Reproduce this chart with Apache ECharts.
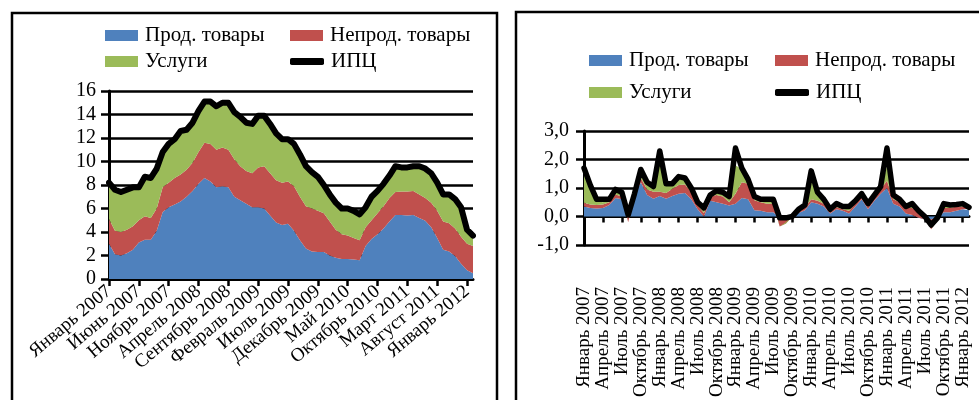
<!DOCTYPE html>
<html><head><meta charset="utf-8">
<script src="https://cdn.jsdelivr.net/npm/echarts@6/dist/echarts.min.js"></script>
<style>html,body{margin:0;padding:0;background:#fff}#c{width:979px;height:400px}</style>
</head><body><div id="c"></div>
<script>
const monthNames = ['Январь','Февраль','Март','Апрель','Май','Июнь','Июль','Август','Сентябрь','Октябрь','Ноябрь','Декабрь'];
const years = [2007,2008,2009,2010,2011,2012];
const categories = [];
years.forEach(y => monthNames.forEach(m => categories.push(m + ' ' + y)));
categories.length = 62; // Январь 2007 – Февраль 2012

const seriesNames = ['Прод. товары','Непрод. товары','Услуги','ИПЦ'];

// Left chart: year-on-year contributions, %
const foodY = [3.0,2.1,2.0,2.2,2.5,3.1,3.35,3.35,4.1,5.7,
  6.1,6.35,6.6,7.0,7.5,8.1,8.6,8.3,7.8,7.9,
  7.8,7.0,6.7,6.4,6.1,6.1,6.0,5.4,4.8,4.6,
  4.7,4.1,3.3,2.6,2.35,2.3,2.3,2.0,1.8,1.7,
  1.7,1.65,1.6,2.8,3.4,3.8,4.3,4.9,5.45,5.45,
  5.4,5.45,5.2,4.95,4.4,3.5,2.5,2.35,1.95,1.3,
  0.75,0.5];
const nonfoodY = [2.1,2.0,2.0,2.0,2.0,1.9,2.0,1.85,1.9,2.1,
  2.1,2.25,2.3,2.3,2.4,2.7,3.0,3.2,3.2,3.3,
  3.2,3.2,2.9,2.8,2.9,3.4,3.6,3.6,3.6,3.6,
  3.6,3.8,3.7,3.6,3.65,3.5,3.3,2.9,2.4,2.1,
  2.0,1.85,1.7,1.6,1.6,1.8,1.9,2.0,1.95,2.0,
  2.05,2.05,2.0,1.95,2.1,2.3,2.4,2.4,2.35,2.3,
  2.25,2.3];
const servicesY = [3.1,3.5,3.4,3.4,3.3,2.8,3.35,3.4,3.4,3.0,
  3.3,3.3,3.7,3.4,3.4,3.5,3.5,3.6,3.7,3.8,
  4.0,4.0,4.2,4.1,4.2,4.4,4.3,4.2,4.0,3.7,
  3.6,3.6,3.6,3.4,3.1,2.9,2.4,2.3,2.3,2.2,
  2.3,2.3,2.2,1.7,2.0,1.9,1.9,1.9,2.2,2.05,
  2.05,2.1,2.4,2.5,2.5,2.4,2.3,2.45,2.5,2.5,
  1.2,0.9];
const cpiY = [8.2,7.6,7.4,7.6,7.8,7.8,8.7,8.6,9.4,10.8,
  11.5,11.9,12.6,12.7,13.3,14.3,15.1,15.1,14.7,15.0,
  15.0,14.2,13.8,13.3,13.2,13.9,13.9,13.2,12.4,11.9,
  11.9,11.5,10.6,9.6,9.1,8.7,8.0,7.2,6.5,6.0,
  6.0,5.8,5.5,6.1,7.0,7.5,8.1,8.8,9.6,9.5,
  9.5,9.6,9.6,9.4,9.0,8.2,7.2,7.2,6.8,6.1,
  4.2,3.7];

// Right chart: month-on-month contributions, %
const foodM = [0.35,0.30,0.28,0.30,0.40,0.65,0.60,0.00,0.70,1.20,
  0.75,0.62,0.72,0.62,0.72,0.80,0.82,0.60,0.25,0.00,
  0.55,0.50,0.45,0.38,0.45,0.65,0.60,0.22,0.20,0.15,
  0.15,-0.05,-0.05,0.05,0.12,0.22,0.50,0.45,0.35,0.10,
  0.25,0.20,0.10,0.35,0.60,0.25,0.55,0.80,1.00,0.45,
  0.35,0.10,0.05,-0.05,-0.10,-0.10,-0.05,0.15,0.15,0.20,
  0.25,0.22];
const nonfoodM = [0.13,0.12,0.12,0.12,0.10,0.12,0.10,-0.20,0.05,0.15,
  0.20,0.25,0.15,0.20,0.25,0.30,0.30,0.25,0.15,0.12,
  0.15,0.25,0.25,0.12,0.35,0.55,0.55,0.35,0.30,0.30,
  0.30,-0.30,-0.20,-0.05,0.08,0.10,0.10,0.10,0.10,0.05,
  0.08,0.05,0.10,0.10,0.10,0.10,0.10,0.15,0.25,0.15,
  0.15,0.20,0.25,0.20,0.05,-0.35,-0.10,0.15,0.15,0.15,
  0.10,0.05];
const servicesM = [1.20,0.65,0.15,0.08,0.08,0.10,0.10,0.00,0.05,0.25,
  0.20,0.18,1.00,0.33,0.18,0.25,0.20,0.12,0.10,0.15,
  0.05,0.10,0.10,0.15,1.00,0.45,0.15,0.10,0.08,0.10,
  0.12,0.00,0.05,0.03,0.05,0.08,0.65,0.20,0.10,0.05,
  0.05,0.05,0.08,0.05,0.05,0.05,0.05,0.05,0.50,0.10,
  0.05,0.05,0.10,0.05,0.00,0.00,0.05,0.10,0.05,0.05,
  0.05,0.03];
const cpiM = [1.7,1.1,0.6,0.6,0.6,0.95,0.85,0.05,0.8,1.65,
  1.2,1.05,2.3,1.15,1.15,1.4,1.35,1.0,0.5,0.3,
  0.75,0.9,0.85,0.7,2.4,1.7,1.3,0.7,0.6,0.6,
  0.6,-0.05,-0.05,0.0,0.25,0.4,1.6,0.85,0.6,0.25,
  0.45,0.35,0.35,0.55,0.8,0.45,0.75,1.05,2.4,0.75,
  0.6,0.35,0.45,0.2,0.0,-0.3,-0.05,0.45,0.4,0.42,
  0.45,0.32];

const yTicksLeft = {min:0, max:16, interval:2};
const yTicksRight = {min:-1, max:3, interval:1};

const COLORS = ['#4F81BD','#C0504D','#9BBB59','#000000'];
const FONT = '"Liberation Serif", "DejaVu Serif", serif';

function areaSeries(name, data, color, gi, stack, extra) {
  return Object.assign({
    name, type:'line', data, xAxisIndex:gi, yAxisIndex:gi, stack,
    symbol:'none', smooth:false, color,
    itemStyle:{color}, lineStyle:{width:0, color},
    areaStyle:{color, opacity:1}, z:2, silent:true
  }, extra || {});
}
function cpiSeries(data, gi, w) {
  return {name:'ИПЦ', type:'line', data, xAxisIndex:gi, yAxisIndex:gi,
    symbol:'none', smooth:false, color:'#000', itemStyle:{color:'#000'},
    lineStyle:{width:w, color:'#000', join:'round', cap:'round'}, z:5, silent:true};
}
function legend(name, left, top, isLine) {
  return {
    data:[{name, icon: isLine ? 'roundRect' : 'rect'}],
    left, top, padding:0, itemWidth: isLine ? 34 : 33, itemHeight: isLine ? 7 : 11,
    selectedMode:false,
    textStyle:{fontFamily:FONT, fontSize:21, color:'#000', padding:[0,0,0,2]}
  };
}

const chart = echarts.init(document.getElementById('c'));
chart.setOption({
  animation:false,
  backgroundColor:'#fff',
  textStyle:{fontFamily:FONT, color:'#000'},
  graphic:[
    {type:'rect', shape:{x:12, y:13, width:485, height:420}, style:{fill:'none', stroke:'#000', lineWidth:2.5}, z:100},
    {type:'rect', shape:{x:516, y:12, width:480, height:420}, style:{fill:'none', stroke:'#000', lineWidth:2.5}, z:100}
  ],
  legend:[
    legend(seriesNames[0], 105, 25, false),
    legend(seriesNames[1], 290, 25, false),
    legend(seriesNames[2], 105, 51, false),
    legend(seriesNames[3], 290, 51, true),
    legend(seriesNames[0], 589, 50, false),
    legend(seriesNames[1], 775, 50, false),
    legend(seriesNames[2], 589, 82, false),
    legend(seriesNames[3], 775, 82, true)
  ],
  grid:[
    {left:109, top:91, width:364, height:188},
    {left:584, top:131, width:385, height:120}
  ],
  xAxis:[
    {type:'category', gridIndex:0, data:categories, boundaryGap:false,
     axisLine:{lineStyle:{color:'#000', width:3}},
     axisTick:{show:true, interval:4, length:7, lineStyle:{color:'#000', width:2.5}},
     axisLabel:{interval:4, rotate:40, margin:10, fontFamily:FONT, fontSize:19, color:'#000'},
     splitLine:{show:false}},
    {type:'category', gridIndex:1, data:categories, boundaryGap:false,
     axisLine:{onZero:true, lineStyle:{color:'#000', width:3}},
     axisTick:{show:true, interval:2, length:6, lineStyle:{color:'#000', width:2.5}},
     axisLabel:{interval:2, rotate:90, margin:42, fontFamily:FONT, fontSize:19, color:'#000'},
     splitLine:{show:false}}
  ],
  yAxis:[
    {type:'value', gridIndex:0, min:yTicksLeft.min, max:yTicksLeft.max, interval:yTicksLeft.interval,
     axisLine:{show:true, lineStyle:{color:'#000', width:3}},
     axisTick:{show:true, length:8, lineStyle:{color:'#000', width:2.5}},
     axisLabel:{margin:13, fontFamily:FONT, fontSize:20, color:'#000'},
     splitLine:{show:true, lineStyle:{color:'#000', width:2.5}}},
    {type:'value', gridIndex:1, min:yTicksRight.min, max:yTicksRight.max, interval:yTicksRight.interval,
     axisLine:{show:true, lineStyle:{color:'#000', width:3}},
     axisTick:{show:true, length:8, lineStyle:{color:'#000', width:2.5}},
     axisLabel:{margin:15, fontFamily:FONT, fontSize:20, color:'#000',
       formatter: v => v.toFixed(1).replace('.', ',')},
     splitLine:{show:true, lineStyle:{color:'#000', width:2.5}}}
  ],
  series:[
    areaSeries(seriesNames[0], foodY, COLORS[0], 0, 'L'),
    areaSeries(seriesNames[1], nonfoodY, COLORS[1], 0, 'L'),
    areaSeries(seriesNames[2], servicesY, COLORS[2], 0, 'L'),
    cpiSeries(cpiY, 0, 6),
    areaSeries(seriesNames[0], foodM, COLORS[0], 1, 'R', {stackStrategy:'all'}),
    areaSeries(seriesNames[1], nonfoodM, COLORS[1], 1, 'R', {stackStrategy:'all'}),
    areaSeries(seriesNames[2], servicesM, COLORS[2], 1, 'R', {stackStrategy:'all'}),
    cpiSeries(cpiM, 1, 5.5)
  ]
});
</script></body></html>
